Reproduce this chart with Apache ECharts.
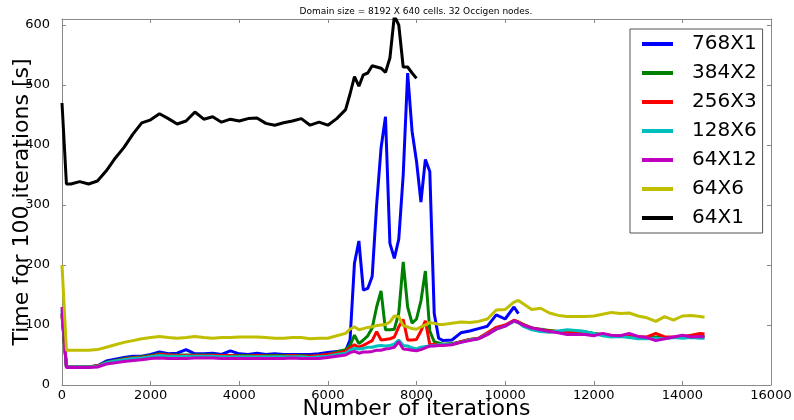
<!DOCTYPE html>
<html>
<head>
<meta charset="utf-8">
<script src="https://cdn.jsdelivr.net/npm/echarts@6/dist/echarts.min.js"></script>
<style>
  html, body { margin: 0; padding: 0; background: #fff; }
  #chart { width: 794px; height: 420px; }
</style>
</head>
<body>
<div id="chart"></div>
<script>
// iteration counts where values were read (shared by every series)
const iters = [0, 100, 200, 400, 600, 800, 1000, 1200, 1400, 1600, 1800, 2000, 2200, 2400, 2600, 2800,
  3000, 3200, 3400, 3600, 3800, 4000, 4200, 4400, 4600, 4800, 5000, 5200, 5400, 5600, 5800, 6000, 6200, 6400,
  6500, 6600, 6700, 6800, 6900, 7000, 7100, 7200, 7300, 7400, 7500, 7600, 7700, 7800, 7900, 8000, 8100,
  8200, 8300, 8400, 8500, 8600,
  8800, 9000, 9200, 9400, 9600, 9800, 10000, 10200, 10300,
  10400, 10600, 10800, 11000, 11200, 11400, 11600, 11800, 12000, 12200, 12400, 12600, 12800, 13000,
  13200, 13400, 13600, 13800, 14000, 14200, 14400, 14500];

const names = ['768X1', '384X2', '256X3', '128X6', '64X12', '64X6', '64X1'];
const colors = ['#0000ff', '#008000', '#ff0000', '#00bfbf', '#bf00bf', '#bfbf00', '#000000'];

const t768x1 = [120, 30, 30, 30, 30, 32, 40, 43, 46, 48, 48, 51, 55, 52, 53, 59, 52, 52, 53, 51, 57, 52, 51, 53, 51, 52, 51, 51, 51, 51, 52, 54, 56, 57,
  75, 203, 240, 158, 161, 181, 300, 395, 447, 236, 211, 243, 350, 520, 423, 373, 305, 376, 356, 119, 78, 74,
  75, 87, 90, 94, 98, 117, 110, 130, 119];
const t384x2 = [115, 30, 30, 30, 30, 32, 38, 41, 44, 46, 47, 49, 52, 50, 50, 50, 50, 50, 50, 49, 49, 49, 49, 49, 49, 49, 49, 49, 49, 48, 49, 51, 55, 59,
  66, 83, 69, 75, 82, 95, 130, 157, 92, 92, 93, 120, 205, 130, 103, 110, 140, 190, 90, 72, 70, 68,
  69, 72, 76, 78, 86, 95, 99, 107, 105,
  101, 95, 93, 91, 89, 90, 90, 89, 86, 84, 82, 82, 81, 80, 79, 80, 79, 79, 79, 80, 81, 81];
const t256x3 = [118, 30, 30, 30, 30, 32, 37, 40, 43, 45, 46, 48, 51, 50, 49, 49, 49, 49, 49, 49, 49, 48, 48, 49, 48, 48, 48, 49, 48, 48, 49, 51, 53, 56,
  62, 67, 63, 66, 70, 74, 89, 75, 76, 77, 80, 97, 109, 75, 75, 76, 90, 107, 67, 68, 67, 67,
  68, 72, 76, 78, 87, 96, 100, 108, 105,
  101, 95, 92, 90, 89, 89, 89, 88, 85, 84, 82, 81, 81, 80, 80, 86, 80, 80, 81, 83, 86, 85];
const t128x6 = [125, 30, 30, 30, 30, 31, 37, 40, 42, 44, 45, 47, 49, 48, 48, 48, 48, 48, 48, 47, 47, 47, 47, 47, 47, 47, 47, 47, 47, 46, 47, 48, 51, 53,
  58, 61, 60, 61, 63, 63, 65, 66, 65, 66, 68, 75, 66, 65, 62, 60, 63, 64, 65, 66, 67, 67,
  68, 71, 75, 77, 85, 93, 98, 106, 104,
  98, 92, 89, 88, 90, 92, 91, 89, 86, 82, 80, 81, 79, 77, 77, 78, 77, 79, 78, 79, 78, 78];
const t64x12 = [130, 29, 29, 29, 29, 30, 35, 37, 39, 41, 42, 44, 45, 44, 44, 44, 45, 45, 45, 44, 44, 44, 44, 44, 44, 44, 44, 45, 44, 44, 44, 46, 48, 50,
  54, 56, 53, 55, 55, 56, 58, 58, 60, 61, 63, 72, 60, 59, 58, 57, 59, 62, 65, 65, 66, 66,
  67, 71, 74, 77, 84, 93, 98, 107, 104,
  100, 95, 92, 89, 87, 84, 84, 84, 82, 86, 83, 82, 86, 81, 79, 74, 77, 80, 83, 80, 81, 80];
const t64x6 = [200, 58, 58, 58, 58, 59, 63, 67, 71, 74, 77, 79, 81, 79, 78, 79, 81, 79, 78, 79, 79, 80, 80, 80, 79, 78, 78, 79, 79, 77, 78, 78, 82, 86,
  93, 97, 92, 94, 96, 97, 99, 100, 101, 105, 115, 114, 99, 97, 94, 93, 97, 100, 104, 103, 101, 101,
  103, 105, 104, 106, 110, 125, 126, 138, 141,
  136, 126, 128, 120, 116, 114, 114, 114, 115, 118, 121, 119, 120, 115, 112, 106, 114, 108, 115, 116, 114, 113];
const t64x1 = [470, 335, 335, 339, 335, 340, 357, 378, 396, 418, 437, 442, 452, 444, 435, 440, 455, 443, 447, 438, 443, 440, 444, 445, 436, 433, 437, 440, 444, 433, 438, 433, 444, 459,
  485, 514, 498, 517, 520, 532, 530, 528, 521, 545, 615, 600, 530, 530, 520, 511];

const xTicks = { min: 0, max: 16000, interval: 2000 };
const yTicks = { min: 0, max: 610, interval: 100 };

const FONT = 'DejaVu Sans';
const frameColor = '#888';

const seriesValues = [t768x1, t384x2, t256x3, t128x6, t64x12, t64x6, t64x1];

const series = seriesValues.map(function (vals, i) {
  return {
    name: names[i],
    type: 'line',
    data: vals.map(function (v, k) { return [iters[k], v]; }),
    symbol: 'none',
    showSymbol: false,
    clip: true,
    lineStyle: { width: 3, color: colors[i] },
    itemStyle: { color: colors[i] },
    emphasis: { disabled: true }
  };
});

const frameAxis = {
  axisLine: { show: true, onZero: false, lineStyle: { color: frameColor, width: 1 } },
  axisTick: { show: true, inside: true, length: 4, lineStyle: { color: frameColor } },
  splitLine: { show: false }
};

function plain(v) { return String(v); }

const option = {
  animation: false,
  textStyle: { fontFamily: FONT },
  title: {
    text: 'Domain size = 8192 X 640 cells. 32 Occigen nodes.',
    left: 416,
    textAlign: 'center',
    top: 7,
    padding: 0,
    textStyle: { fontSize: 9, fontWeight: 'normal', color: '#000', fontFamily: FONT }
  },
  legend: {
    data: names,
    orient: 'vertical',
    left: 630,
    top: 29,
    padding: [5, 6, 5, 12],
    icon: 'rect',
    itemWidth: 31,
    itemHeight: 4,
    itemGap: 9,
    backgroundColor: '#fff',
    borderColor: '#555',
    borderWidth: 1,
    borderRadius: 0,
    selectedMode: false,
    textStyle: { fontSize: 20, color: '#000', fontFamily: FONT, padding: [0, 0, 0, 14], lineHeight: 20 }
  },
  grid: { left: 62, right: 23, top: 19, bottom: 35, containLabel: false, outerBoundsMode: 'none' },
  xAxis: [
    Object.assign({
      type: 'value', position: 'bottom',
      min: xTicks.min, max: xTicks.max, interval: xTicks.interval,
      axisLabel: { color: '#000', fontSize: 13, margin: 4, fontFamily: FONT, formatter: plain },
      name: 'Number of iterations',
      nameLocation: 'middle',
      nameGap: 13,
      nameMoveOverlap: false,
      nameTextStyle: { fontSize: 22, color: '#000', fontFamily: FONT }
    }, frameAxis),
    Object.assign({
      type: 'value', position: 'top',
      min: xTicks.min, max: xTicks.max, interval: xTicks.interval,
      axisLabel: { show: false }
    }, frameAxis)
  ],
  yAxis: [
    Object.assign({
      type: 'value', position: 'left',
      min: yTicks.min, max: yTicks.max, interval: yTicks.interval,
      axisLabel: {
        color: '#000', fontSize: 13, margin: 12, fontFamily: FONT,
        formatter: function (v) { return v % 100 === 0 ? String(v) : ''; }
      },
      name: 'Time for 100 iterations [s]',
      nameLocation: 'middle',
      nameGap: 29,
      nameMoveOverlap: false,
      nameTextStyle: { fontSize: 22, color: '#000', fontFamily: FONT }
    }, frameAxis),
    Object.assign({
      type: 'value', position: 'right',
      min: yTicks.min, max: yTicks.max, interval: yTicks.interval,
      axisLabel: { show: false }
    }, frameAxis)
  ],
  series: series
};

const chart = echarts.init(document.getElementById('chart'), null, { renderer: 'canvas' });
chart.setOption(option);
</script>
</body>
</html>
